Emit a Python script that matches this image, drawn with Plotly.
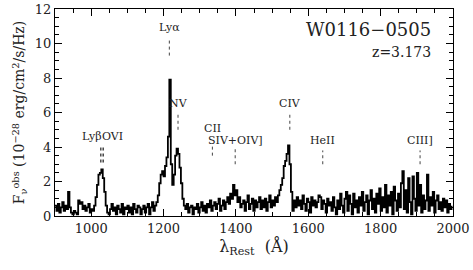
import numpy as np
import plotly.graph_objects as go

# Rest wavelength grid (4 Angstrom bins) and flux values
lam_start, lam_step = 900, 4
flux = [
    0.6, 0.3, 0.7, 0.2, 0.5, 0.8, 0.3, 0.6, 0.4, 1.4,   # 900-936
    0.5, 0.2, 0.1, 0.3, 0.2, 0.1, 0.9, 0.7, 0.8, 0.4,   # 940-976
    0.6, 0.3, 0.5, 0.7, 0.2, 0.4, 0.3, 0.6, 1.1, 1.8,   # 980-1016
    2.4, 2.5, 2.7, 2.2, 1.4, 0.6, 0.2, 0.1, 0.4, 0.7,   # 1020-1056
    0.3, 0.5, 0.1, 0.6, 0.4, 0.2, 0.7, 0.1, 0.5, 0.4,   # 1060-1096
    0.6, 0.2, 0.5, 0.1, 0.7, 0.4, 0.2, 0.6, 0.5, 0.1,   # 1100-1136
    0.4, 0.6, 0.2, 0.5, 0.7, 0.1, 0.5, 0.8, 0.3, 0.6,   # 1140-1176
    0.8, 1.2, 1.9, 2.4, 2.6, 2.3, 2.9, 3.4, 4.6, 7.9,   # 1180-1216
    3.0, 1.8, 2.4, 3.5, 3.9, 3.6, 2.8, 1.9, 1.0, 0.6,   # 1220-1256
    0.4, 0.7, 0.2, 0.5, 0.6, 0.1, 0.5, 0.4, 0.7, 0.2,   # 1260-1296
    0.5, 0.8, 0.3, 0.6, 0.2, 0.7, 0.5, 0.9, 0.3, 0.6,   # 1300-1336
    0.8, 0.4, 0.7, 1.0, 0.3, 0.6, 0.9, 0.4, 0.8, 1.1,   # 1340-1376
    0.7, 1.3, 1.0, 1.8, 1.2, 1.5, 0.8, 1.1, 0.5, 0.7,   # 1380-1416
    0.9, 0.3, 0.8, 1.2, 0.4, 0.7, 1.0, 0.3, 0.9, 0.5,   # 1420-1456
    0.8, 1.1, 0.4, 0.9, 0.5, 1.0, 0.3, 0.8, 1.2, 0.5,   # 1460-1496
    0.9, 0.6, 1.1, 0.8, 1.2, 1.5, 1.8, 2.2, 2.9, 3.2,   # 1500-1536
    3.6, 4.1, 3.0, 1.4, 0.3, 0.9, 0.5, 1.1, 0.6, 0.9,   # 1540-1576
    0.4, 1.2, 0.7, 0.3, 1.0, 0.8, 0.2, 1.1, 0.6, 0.9,   # 1580-1616
    0.5, 0.8, 1.2, 1.1, 0.4, 0.9, 0.7, 0.2, 1.0, 0.6,   # 1620-1656
    0.8, 0.3, 1.1, 0.5, 0.1, 0.9, 0.4, 1.3, 0.6, 0.2,   # 1660-1696
    1.0, 1.4, 0.3, 1.2, 0.7, 0.1, 1.3, 0.5, 0.9, 0.2,   # 1700-1736
    1.1, 0.6, 1.4, 0.3, 0.8, 1.2, 0.1, 0.9, 1.5, 0.4,   # 1740-1776
    1.0, 0.2, 1.3, 0.7, 1.6, 0.3, 1.1, 0.5, 1.8, 0.2,   # 1780-1816
    1.2, 0.6, 1.4, 0.1, 1.7, 0.9, 0.3, 1.3, 0.5, 1.9,   # 1820-1856
    2.6, 0.4, 1.5, 0.2, 2.2, 0.8, 0.1, 2.3, 1.0, 0.3,   # 1860-1896
    2.5, 0.6, 1.8, 0.2, 1.2, 0.4, 0.9, 2.4, 0.3, 1.1,   # 1900-1936
    0.6, 1.4, 0.2, 0.9, 1.2, 0.4, 0.8, 0.3, 1.0, 0.5,   # 1940-1976
    0.9, 0.2, 0.7, 0.4, 0.6,                            # 1980-1996
]
lam = lam_start + lam_step * np.arange(len(flux))

# Emission line identifications
line_names = ["Lyβ", "OVI", "Lyα", "NV", "CII", "SIV+OIV]", "CIV", "HeII", "CIII]"]
line_waves = [1026, 1034, 1216, 1240, 1335, 1398, 1549, 1640, 1909]
extra_dotted = [1030]

x_ticks = [1000, 1200, 1400, 1600, 1800, 2000]
y_ticks = [0, 2, 4, 6, 8, 10, 12]

object_name = "W0116−0505"
redshift_label = "z=3.173"

FONT = "DejaVu Serif"

fig = go.Figure()
fig.add_trace(go.Scatter(x=lam, y=flux, mode="lines", line_shape="hv",
                         line=dict(color="black", width=1.8), hoverinfo="skip"))

# label placement (style/position only): label y, dotted top, dotted bottom, anchor
label_pos = {
    "Lyβ": (4.6, 4.1, 3.1, "right"), "OVI": (4.6, 4.1, 3.1, "left"),
    "Lyα": (10.9, 10.3, 9.3, "center"), "NV": (6.5, 6.0, 5.0, "center"),
    "CII": (5.1, 4.1, 3.5, "center"), "SIV+OIV]": (4.4, 3.9, 3.0, "center"),
    "CIV": (6.5, 5.9, 5.0, "center"), "HeII": (4.4, 3.8, 3.0, "center"),
    "CIII]": (4.4, 3.8, 3.0, "center"),
}
shapes = []
annotations = []
for name, w in zip(line_names, line_waves):
    ylab, y0, y1, anc = label_pos[name]
    shapes.append(dict(type="line", xref="x", yref="y", x0=w, x1=w, y0=y1, y1=y0,
                       line=dict(color="#444", width=1, dash="dot")))
    annotations.append(dict(x=w if anc == "center" else 1030, y=ylab, xref="x", yref="y",
                            text=name, showarrow=False, xanchor=anc, yanchor="middle",
                            xshift=(2 if anc == "right" else (-2 if anc == "left" else 0)),
                            font=dict(family=FONT, size=11, color="#222")))
for w in extra_dotted:
    shapes.append(dict(type="line", xref="x", yref="y", x0=w, x1=w, y0=3.1, y1=4.1,
                       line=dict(color="#444", width=1, dash="dot")))

annotations.append(dict(x=1945, y=10.8, xref="x", yref="y", text=object_name,
                        showarrow=False, xanchor="right", yanchor="middle",
                        font=dict(family=FONT, size=18, color="#222")))
annotations.append(dict(x=1945, y=9.5, xref="x", yref="y", text=redshift_label,
                        showarrow=False, xanchor="right", yanchor="middle",
                        font=dict(family=FONT, size=14, color="#222")))

axis_common = dict(showline=True, linecolor="black", linewidth=1, mirror="allticks",
                   ticks="inside", ticklen=7, tickcolor="black", showgrid=False,
                   zeroline=False, automargin=False,
                   tickfont=dict(family=FONT, size=13, color="#222"))

fig.update_layout(
    width=473, height=270,
    margin=dict(l=55, r=20, t=9, b=54),
    paper_bgcolor="white", plot_bgcolor="white",
    showlegend=False,
    shapes=shapes, annotations=annotations,
    xaxis=dict(range=[900, 2000], tickvals=x_ticks,
               minor=dict(ticks="inside", dtick=50, tick0=900, ticklen=4, tickcolor="black"),
               title=dict(text="λ<sub>Rest</sub>  (Å)", standoff=4,
                          font=dict(family=FONT, size=16, color="#222")),
               **axis_common),
    yaxis=dict(range=[0, 12], tickvals=y_ticks,
               minor=dict(ticks="inside", dtick=0.5, tick0=0, ticklen=4, tickcolor="black"),
               title=dict(text="F<sub>ν</sub><sup>obs</sup> (10<sup>−28</sup> erg/cm<sup>2</sup>/s/Hz)",
                          standoff=6, font=dict(family=FONT, size=14, color="#222")),
               **axis_common),
)

fig.write_html("out.html", config={"displayModeBar": False},
               post_script="document.body.style.margin='0';")
